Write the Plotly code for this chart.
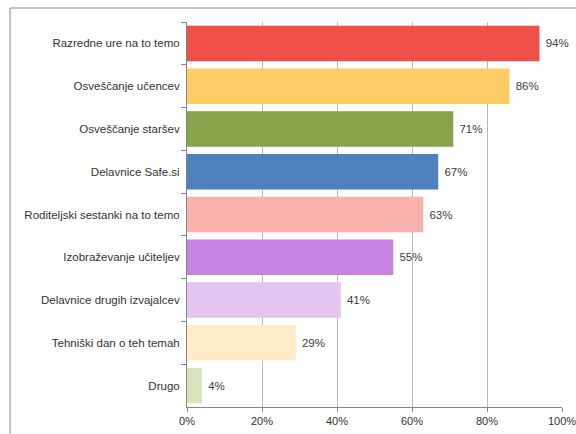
import plotly.graph_objects as go

categories = ["Razredne ure na to temo", "Osveščanje učencev", "Osveščanje staršev",
              "Delavnice Safe.si", "Roditeljski sestanki na to temo", "Izobraževanje učiteljev",
              "Delavnice drugih izvajalcev", "Tehniški dan o teh temah", "Drugo"]
values = [94, 86, 71, 67, 63, 55, 41, 29, 4]
colors = ["#F0504A", "#FFCC66", "#86A44A", "#4F81BD", "#F8B1AC", "#C882E2",
          "#E4C4F1", "#FFEBC7", "#D8E4BE"]
x_ticks = [0, 20, 40, 60, 80, 100]
x_tick_labels = ["0%", "20%", "40%", "60%", "80%", "100%"]

FONT = "Liberation Sans"
W, H = 576, 434
ML, MR, MT, MB = 187, 14, 22, 27
PW, PH = W - ML - MR, H - MT - MB

fig = go.Figure(go.Bar(
    x=values, y=categories, orientation="h",
    marker=dict(color=colors, line=dict(width=0)),
    text=[f"\u00a0{v}%" for v in values], textposition="outside",
    textfont=dict(family=FONT, size=11.5, color="#404040"),
    cliponaxis=False,
))

fig.update_layout(
    width=W, height=H,
    margin=dict(l=ML, r=MR, t=MT, b=MB, autoexpand=False),
    paper_bgcolor="white", plot_bgcolor="white",
    bargap=0.17, showlegend=False,
    font=dict(family=FONT, size=11.5, color="#333333"),
    xaxis=dict(range=[0, 100], tickmode="array", tickvals=x_ticks, ticktext=x_tick_labels,
               showgrid=True, gridcolor="#BABABA", gridwidth=1, automargin=False,
               zeroline=False, showline=True, linecolor="#868686",
               ticks="outside", ticklen=4, tickcolor="#868686",
               ticklabeloverflow="allow",
               tickfont=dict(family=FONT, size=11, color="#333333")),
    yaxis=dict(categoryorder="array", categoryarray=categories, autorange="reversed",
               showline=True, linecolor="#868686", ticks="outside", ticklen=5,
               tickcolor="#868686", tickson="boundaries", showgrid=False,
               ticklabelstandoff=4, automargin=False,
               tickfont=dict(family=FONT, size=11.5, color="#333333")),
    shapes=[dict(type="rect", xref="paper", yref="paper",
                 x0=(10 - ML) / PW, x1=1.2, y0=-0.2, y1=1 + (MT - 8) / PH,
                 line=dict(color="#878787", width=1), fillcolor="rgba(0,0,0,0)",
                 layer="below")],
)

fig.write_html("out.html", config={"displayModeBar": False},
               post_script="document.body.style.margin='0';document.body.style.overflow='hidden';")
